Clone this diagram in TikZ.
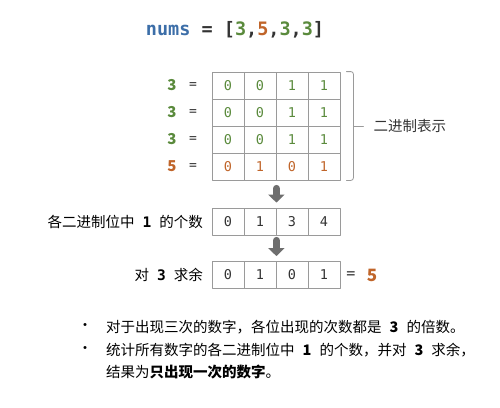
\documentclass[tikz,border=0pt]{standalone}
\usepackage{fontspec}
\setmainfont{Noto Sans CJK SC}
\setmonofont{DejaVu Sans Mono}
\usetikzlibrary{calc,arrows.meta}
\definecolor{numblue}{HTML}{3C6EA8}
\definecolor{numgreen}{HTML}{5A8A3C}
\definecolor{numorange}{HTML}{C0652A}
\definecolor{gridgray}{HTML}{9A9A9A}
\definecolor{arrgray}{HTML}{6E6E6E}
\definecolor{txtdark}{HTML}{333333}
\newcommand{\gapnum}[1]{\hspace{8pt}{#1}\hspace{8pt}}
\tikzset{
  cell/.style={draw=gridgray,line width=0.8pt,minimum width=32pt,minimum height=27pt,
    inner sep=0pt,font=\ttfamily\fontsize{13.5}{13.5}\selectfont},
  rowlbl/.style={font=\fontsize{15}{15}\selectfont\bfseries,inner sep=0pt},
  eqlbl/.style={font=\ttfamily\fontsize{13}{13}\selectfont,text=txtdark,inner sep=0pt},
  cjklbl/.style={font=\fontsize{14.5}{14.5}\selectfont,text=black,inner sep=0pt},
  blockarrow/.style={draw=arrgray,line width=7pt,-{Triangle[width=16pt,length=8pt]}},
}
\begin{document}
\begin{tikzpicture}[x=1pt,y=-1pt,line cap=round,line join=round]
  \useasboundingbox (0,0) rectangle (500,407);
  % 标题
  \node[font=\ttfamily\bfseries\fontsize{18.5}{18.5}\selectfont,text=txtdark] (title) at (235,30)
    {\textcolor{numblue}{nums} = [\textcolor{numgreen}{3},\textcolor{numorange}{5},\textcolor{numgreen}{3},\textcolor{numgreen}{3}]};
  % 二进制表格
  \foreach \r/\v/\bits [count=\j] in {numgreen/3/{0,0,1,1},numgreen/3/{0,0,1,1},numgreen/3/{0,0,1,1},numorange/5/{0,1,0,1}} {
    \foreach \b [count=\i] in \bits
      \node[cell,text=\r] (c-\j-\i) at ({196+32*\i},{58.5+27*\j}) {\b};
    \node[rowlbl,text=\r] (n-\j) at (172,{58.5+27*\j}) {\v};
    \node[eqlbl] (e-\j) at (193,{58.5+27*\j}) {=};
  }
  % 括号
  \coordinate (bt) at ($(c-1-4.north east)+(6,0)$);
  \coordinate (bb) at ($(c-4-4.south east)+(6,0)$);
  \draw[gridgray,line width=0.8pt,rounded corners=2.5pt] (bt) -- ++(7,0) |- ($(bt)!0.5!(bb)+(7,0)$) |- (bb);
  \draw[gridgray,line width=0.8pt] ($(bt)!0.5!(bb)+(7,0)$) -- ++(10,0) coordinate (tip);
  \node[cjklbl,text=txtdark,anchor=west] (binlbl) at ($(tip)+(10,0)$) {二进制表示};
  % 1 的个数
  \foreach \b [count=\i] in {0,1,3,4}
    \node[cell,text=txtdark] (b-\i) at ({196+32*\i},221.5) {\b};
  \node[cjklbl,anchor=east] (cntlbl) at (203,221.5) {各二进制位中\gapnum{\ttfamily\bfseries 1}的个数};
  % 对 3 求余
  \foreach \b [count=\i] in {0,1,0,1}
    \node[cell,text=txtdark] (m-\i) at ({196+32*\i},275) {\b};
  \node[cjklbl,anchor=east] (modlbl) at (203,275) {对\gapnum{\ttfamily\bfseries 3}求余};
  \node[eqlbl,font=\ttfamily\fontsize{15}{15}\selectfont] (meq) at (351,275) {=};
  \node[font=\fontsize{17}{17}\selectfont\bfseries,text=numorange,inner sep=0pt] (res) at (372,275) {5};
  % 箭头
  \draw[blockarrow,shorten <=8pt,shorten >=5pt] (c-4-2.south east) -- (b-2.north east);
  \draw[blockarrow,shorten <=5pt,shorten >=5pt] (b-2.south east) -- (m-2.north east);
  % 说明
  \node[cjklbl,inner sep=0pt] (dot1) at (85,327) {•};
  \node[cjklbl,anchor=west] (line1) at (106,327) {对于出现三次的数字，各位出现的次数都是\gapnum{\textbf{3}}的倍数。};
  \node[cjklbl,inner sep=0pt] (dot2) at (85,350) {•};
  \node[cjklbl,anchor=west] (line2) at (106,350) {统计所有数字的各二进制位中\gapnum{\textbf{1}}的个数，并对\gapnum{\textbf{3}}求余，};
  \node[cjklbl,anchor=west] (line3) at (106,372) {结果为\textbf{只出现一次的数字}。};
\end{tikzpicture}
\end{document}
